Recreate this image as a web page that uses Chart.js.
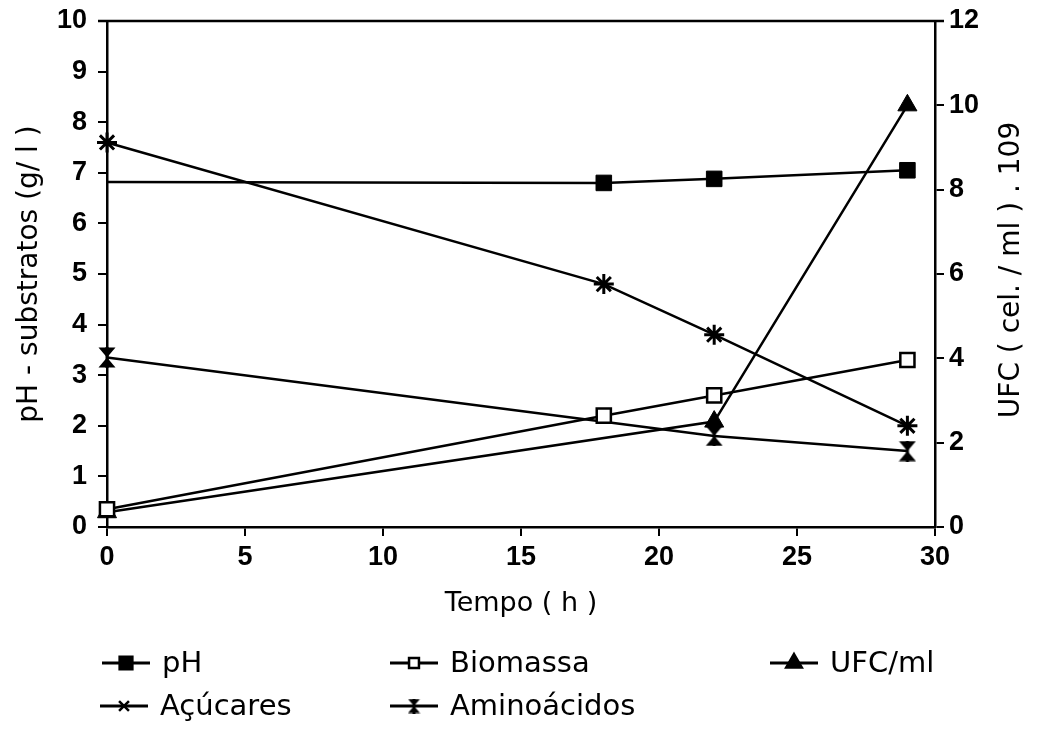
<!DOCTYPE html>
<html><head><meta charset="utf-8">
<script src="https://cdn.jsdelivr.net/npm/chart.js@4.4.1/dist/chart.umd.min.js"></script>
<style>html,body{margin:0;padding:0;background:#fff;} #wrap{width:1045px;height:730px;position:relative;background:#fff}</style>
</head><body><div id="wrap"><canvas id="c" width="1045" height="730"></canvas></div>
<script>
// ---- data ----
const tempo = [0, 18, 22, 29];
const pH = [6.82, 6.8, 6.88, 7.05];
const biomassa = [0.35, 2.2, 2.6, 3.3];
const ufc = [0.35, null, 2.5, 10];
const acucares = [7.6, 4.8, 3.8, 2.0];
const aminoacidos = [3.35, null, 1.8, 1.5];
const labels = ['pH', 'Biomassa', 'UFC/ml', 'Açúcares', 'Aminoácidos'];
const xTicks = [0, 5, 10, 15, 20, 25, 30];
const leftTicks = [0, 1, 2, 3, 4, 5, 6, 7, 8, 9, 10];
const rightTicks = [0, 2, 4, 6, 8, 10, 12];
const xTitle = 'Tempo ( h )';
const leftTitle = 'pH - substratos (g/ l )';
const rightTitle = 'UFC ( cel. / ml ) . 109';

function pts(arr) { return tempo.map((t, i) => ({ x: t, y: arr[i] })); }

function hourglass(w, h) {
  const c = document.createElement('canvas');
  c.width = w; c.height = h;
  const g = c.getContext('2d');
  g.fillStyle = '#000';
  g.beginPath(); g.moveTo(0.5, 0.5); g.lineTo(w - 0.5, 0.5); g.lineTo(w / 2, h / 2); g.closePath(); g.fill();
  g.beginPath(); g.moveTo(0.5, h - 0.5); g.lineTo(w - 0.5, h - 0.5); g.lineTo(w / 2, h / 2); g.closePath(); g.fill();
  g.fillRect(w / 2 - 1.5, 0, 3, h);
  return c;
}
const hgPlot = hourglass(18, 21);
const hgLegend = hourglass(13, 15);

const tickFont = { family: '"Liberation Sans", Arial, sans-serif', size: 27, weight: 'bold' };
const titleFont = { family: '"DejaVu Sans", sans-serif', size: 27, weight: 'normal' };
const yTitleFont = { family: '"DejaVu Sans", sans-serif', size: 28, weight: 'normal' };
const legendFont = '29px "DejaVu Sans", sans-serif';

const base = { borderColor: '#000', borderWidth: 2.5, tension: 0, clip: false, spanGaps: true, pointBorderColor: '#000' };

const datasets = [
  Object.assign({}, base, { label: labels[0], data: pts(pH), yAxisID: 'y', pointStyle: 'rect', pointRadius: [0, 11, 11, 11], pointBackgroundColor: '#000', pointBorderWidth: 1, legendStyle: 'rect', legendRadius: 9, legendFill: '#000' }),
  Object.assign({}, base, { label: labels[1], data: pts(biomassa), yAxisID: 'y', pointStyle: 'rect', pointRadius: 10, pointBackgroundColor: '#fff', pointBorderWidth: 2.5, legendStyle: 'rect', legendRadius: 7, legendFill: '#fff' }),
  Object.assign({}, base, { label: labels[2], data: pts(ufc), yAxisID: 'y2', pointStyle: 'triangle', pointRadius: 11, pointBackgroundColor: '#000', pointBorderWidth: 1, legendStyle: 'triangle', legendRadius: 9, legendFill: '#000' }),
  Object.assign({}, base, { label: labels[3], data: pts(acucares), yAxisID: 'y', pointStyle: 'star', pointRadius: 10, pointBackgroundColor: '#000', pointBorderWidth: 3, legendStyle: 'crossRot', legendRadius: 7, legendFill: '#000' }),
  Object.assign({}, base, { label: labels[4], data: pts(aminoacidos), yAxisID: 'y', pointStyle: hgPlot, pointRadius: 10, pointBackgroundColor: '#000', pointBorderWidth: 1, legendStyle: hgLegend, legendRadius: 7, legendFill: '#000' })
];

const legendPos = [
  { x: 102, y: 663 }, { x: 390, y: 663 }, { x: 770, y: 663 },
  { x: 100, y: 706 }, { x: 390, y: 706 }
];

const extras = {
  id: 'extras',
  afterDraw(chart) {
    const ctx = chart.ctx, a = chart.chartArea;
    ctx.save();
    // top frame line
    ctx.strokeStyle = '#000'; ctx.lineWidth = 2.5;
    ctx.beginPath(); ctx.moveTo(a.left - 9, a.top); ctx.lineTo(a.right + 9, a.top); ctx.stroke();
    // right title (reads bottom to top)
    ctx.fillStyle = '#000';
    ctx.font = '28px "DejaVu Sans", sans-serif';
    ctx.textAlign = 'center'; ctx.textBaseline = 'middle';
    ctx.translate(1012, (a.top + a.bottom) / 2 - 4);
    ctx.rotate(-Math.PI / 2);
    ctx.fillText(rightTitle, 0, 0);
    ctx.restore();
    // legend
    ctx.save();
    chart.data.datasets.forEach((ds, i) => {
      const p = legendPos[i];
      ctx.strokeStyle = '#000'; ctx.lineWidth = 3;
      ctx.beginPath(); ctx.moveTo(p.x, p.y); ctx.lineTo(p.x + 48, p.y); ctx.stroke();
      ctx.fillStyle = ds.legendFill; ctx.strokeStyle = '#000'; ctx.lineWidth = 2.5;
      Chart.helpers.drawPoint(ctx, { pointStyle: ds.legendStyle, radius: ds.legendRadius, rotation: 0, borderWidth: 2.5 }, p.x + 24, p.y);
      ctx.fillStyle = '#000';
      ctx.font = legendFont; ctx.textAlign = 'left'; ctx.textBaseline = 'middle';
      ctx.fillText(ds.label, p.x + 60, p.y + 1);
    });
    ctx.restore();
  }
};

function noPadV(s) { s.paddingTop = 0; s.paddingBottom = 0; }

new Chart(document.getElementById('c'), {
  type: 'line',
  data: { datasets },
  plugins: [extras],
  options: {
    responsive: false, animation: false, devicePixelRatio: 1,
    layout: { padding: { left: 0, right: 0, top: 21, bottom: 108 } },
    plugins: { legend: { display: false }, tooltip: { enabled: false } },
    scales: {
      x: {
        type: 'linear', position: 'bottom', min: 0, max: 30,
        afterBuildTicks: s => { s.ticks = xTicks.map(v => ({ value: v })); },
        afterFit: s => { s.height = 95; s.paddingLeft = 0; s.paddingRight = 0; },
        grid: { drawOnChartArea: false, drawTicks: true, tickLength: 9, color: '#000', lineWidth: 2 },
        border: { display: true, color: '#000', width: 2.5 },
        ticks: { color: '#000', font: tickFont, padding: 5, maxRotation: 0 },
        title: { display: true, text: xTitle, color: '#000', font: titleFont, padding: { top: 0, bottom: 2 } }
      },
      y: {
        type: 'linear', position: 'left', min: 0, max: 10,
        afterBuildTicks: s => { s.ticks = leftTicks.map(v => ({ value: v })); },
        afterFit: s => { s.width = 107; noPadV(s); },
        grid: { drawOnChartArea: false, drawTicks: true, tickLength: 9, color: '#000', lineWidth: 2 },
        border: { display: true, color: '#000', width: 2.5 },
        ticks: { color: '#000', font: tickFont, padding: 11 },
        title: { display: true, text: leftTitle, color: '#000', font: yTitleFont, padding: { top: 13, bottom: 0 } }
      },
      y2: {
        type: 'linear', position: 'right', min: 0, max: 12,
        afterBuildTicks: s => { s.ticks = rightTicks.map(v => ({ value: v })); },
        afterFit: s => { s.width = 110; noPadV(s); },
        grid: { drawOnChartArea: false, drawTicks: true, tickLength: 9, color: '#000', lineWidth: 2 },
        border: { display: true, color: '#000', width: 2.5 },
        ticks: { color: '#000', font: tickFont, padding: 5 },
        title: { display: false }
      }
    }
  }
});
</script></body></html>
